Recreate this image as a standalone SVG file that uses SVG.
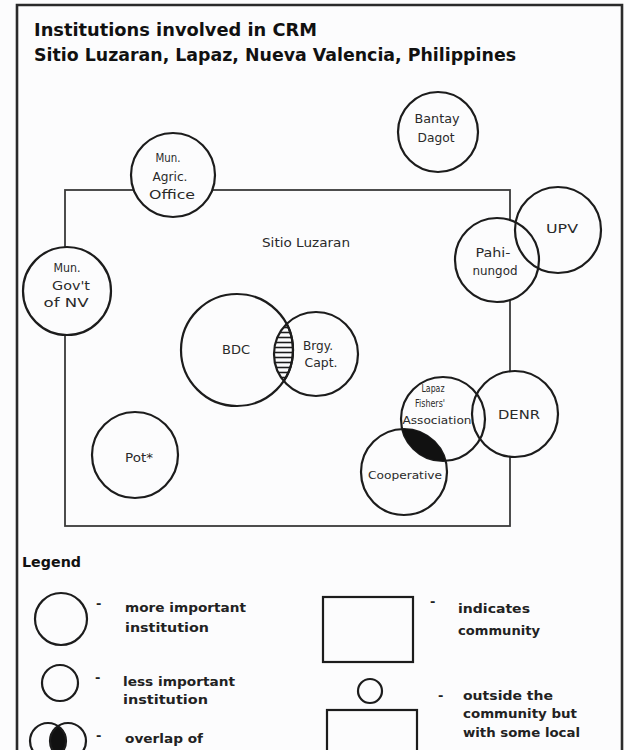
<svg xmlns="http://www.w3.org/2000/svg" width="630" height="750" viewBox="0 0 630 750">
<style>
.bg{fill:#fcfcfd}
.c{fill:none;stroke:#1c1c1c;stroke-width:2.2}
.cf{fill:#fcfcfd;stroke:#1c1c1c;stroke-width:2.2}
.frame{fill:none;stroke:#2a2a2a;stroke-width:2.6}
.comm{fill:none;stroke:#3a3a3a;stroke-width:1.8}
.title{font-family:"DejaVu Sans","Liberation Sans",sans-serif;font-weight:bold;font-size:18px;fill:#111}
.lbl{font-family:"DejaVu Sans","Liberation Sans",sans-serif;font-size:12px;fill:#2a2a2a;text-anchor:middle}
.sm{font-size:10px}
.lg{font-family:"DejaVu Sans","Liberation Sans",sans-serif;font-size:13px;font-weight:bold;fill:#222}
.lh{font-family:"DejaVu Sans","Liberation Sans",sans-serif;font-size:14px;font-weight:bold;fill:#111}
</style>
<defs>
<pattern id="hatch" patternUnits="userSpaceOnUse" width="10" height="5">
<line x1="0" y1="2.5" x2="10" y2="2.5" stroke="#1c1c1c" stroke-width="1.6"/>
</pattern>
<clipPath id="clipBrgy"><circle cx="316" cy="354" r="42"/></clipPath>
<clipPath id="clipCoop"><circle cx="404" cy="472" r="43"/></clipPath>
<clipPath id="clipLegR"><circle cx="68" cy="741" r="18"/></clipPath>
</defs>
<rect class="bg" x="0" y="0" width="630" height="750"/>
<path class="frame" d="M17,755 V5 H622 V755"/>
<g id="title">
<text class="title" x="34" y="36" textLength="283" lengthAdjust="spacingAndGlyphs">Institutions involved in CRM</text>
<text class="title" x="34" y="61" textLength="482" lengthAdjust="spacingAndGlyphs">Sitio Luzaran, Lapaz, Nueva Valencia, Philippines</text>
</g>
<g id="community-sitio-luzaran">
<rect class="comm" x="65" y="190" width="445" height="336"/>
<text class="lbl" x="306" y="247" textLength="88" lengthAdjust="spacingAndGlyphs">Sitio Luzaran</text>
</g>
<g id="node-mun-agric-office">
<circle class="cf" cx="173" cy="175" r="42"/>
<text class="lbl" x="168" y="162" textLength="25" lengthAdjust="spacingAndGlyphs">Mun.</text>
<text class="lbl" x="170" y="181" textLength="35" lengthAdjust="spacingAndGlyphs">Agric.</text>
<text class="lbl" x="172" y="199" textLength="46" lengthAdjust="spacingAndGlyphs">Office</text>
</g>
<g id="node-mun-govt-nv">
<circle class="cf" cx="67" cy="291" r="44"/>
<text class="lbl" x="67" y="272" textLength="27" lengthAdjust="spacingAndGlyphs">Mun.</text>
<text class="lbl" x="71" y="290" textLength="38" lengthAdjust="spacingAndGlyphs">Gov't</text>
<text class="lbl" x="66" y="307" textLength="45" lengthAdjust="spacingAndGlyphs">of  NV</text>
</g>
<g id="node-bantay-dagot">
<circle class="cf" cx="438" cy="132" r="40"/>
<text class="lbl" x="437" y="123" textLength="45" lengthAdjust="spacingAndGlyphs">Bantay</text>
<text class="lbl" x="436" y="142" textLength="37" lengthAdjust="spacingAndGlyphs">Dagot</text>
</g>
<g id="node-pahinungod">
<circle class="cf" cx="497" cy="260" r="42"/>
<text class="lbl" x="493" y="257" textLength="35" lengthAdjust="spacingAndGlyphs">Pahi-</text>
<text class="lbl" x="495" y="275" textLength="45" lengthAdjust="spacingAndGlyphs">nungod</text>
</g>
<g id="node-upv">
<circle class="c" cx="558" cy="230" r="43"/>
<text class="lbl" x="562" y="233" textLength="32" lengthAdjust="spacingAndGlyphs">UPV</text>
</g>
<g id="node-denr">
<circle class="cf" cx="515" cy="414" r="43"/>
<text class="lbl" x="519" y="419" textLength="42" lengthAdjust="spacingAndGlyphs">DENR</text>
</g>
<g id="node-lapaz-fishers-association">
<circle class="c" cx="443" cy="419" r="42"/>
<text class="lbl sm" x="433" y="392" textLength="23" lengthAdjust="spacingAndGlyphs">Lapaz</text>
<text class="lbl sm" x="430" y="407" textLength="30" lengthAdjust="spacingAndGlyphs">Fishers'</text>
<text class="lbl sm" x="437" y="424" textLength="69" lengthAdjust="spacingAndGlyphs">Association</text>
</g>
<g id="node-cooperative">
<circle class="c" cx="404" cy="472" r="43"/>
<text class="lbl sm" x="405" y="479" textLength="74" lengthAdjust="spacingAndGlyphs">Cooperative</text>
</g>
<g id="node-bdc">
<circle class="c" cx="237" cy="350" r="56"/>
<text class="lbl" x="236" y="354" textLength="28" lengthAdjust="spacingAndGlyphs">BDC</text>
</g>
<g id="node-brgy-capt">
<circle class="c" cx="316" cy="354" r="42"/>
<text class="lbl" x="318" y="350" textLength="30" lengthAdjust="spacingAndGlyphs">Brgy.</text>
<text class="lbl" x="321" y="367" textLength="33" lengthAdjust="spacingAndGlyphs">Capt.</text>
</g>
<g id="node-pot">
<circle class="c" cx="135" cy="455" r="43"/>
<text class="lbl" x="139" y="462" textLength="28" lengthAdjust="spacingAndGlyphs">Pot*</text>
</g>
<g id="overlap-bdc-brgy">
<circle cx="237" cy="350" r="56" fill="url(#hatch)" stroke="#1c1c1c" stroke-width="2.2" clip-path="url(#clipBrgy)"/>
</g>
<g id="overlap-lapaz-coop">
<circle cx="443" cy="419" r="42" fill="#111" clip-path="url(#clipCoop)"/>
</g>
<g id="legend">
<text class="lh" x="22" y="567" textLength="59" lengthAdjust="spacingAndGlyphs">Legend</text>
<g id="legend-more">
<circle class="c" cx="61" cy="619" r="26"/>
<text class="lg" x="96" y="608">-</text>
<text class="lg" x="125" y="612" textLength="121" lengthAdjust="spacingAndGlyphs">more important</text>
<text class="lg" x="125" y="632" textLength="84" lengthAdjust="spacingAndGlyphs">institution</text>
</g>
<g id="legend-less">
<circle class="c" cx="60" cy="683" r="18"/>
<text class="lg" x="95" y="682">-</text>
<text class="lg" x="123" y="686" textLength="112" lengthAdjust="spacingAndGlyphs">less important</text>
<text class="lg" x="123" y="704" textLength="85" lengthAdjust="spacingAndGlyphs">institution</text>
</g>
<g id="legend-overlap">
<circle cx="48" cy="741" r="18" fill="#111" clip-path="url(#clipLegR)"/>
<circle class="c" cx="48" cy="741" r="18"/>
<circle class="c" cx="68" cy="741" r="18"/>
<text class="lg" x="96" y="740">-</text>
<text class="lg" x="125" y="743" textLength="78" lengthAdjust="spacingAndGlyphs">overlap of</text>
</g>
<g id="legend-community">
<rect class="c" x="323" y="597" width="90" height="65"/>
<text class="lg" x="430" y="606">-</text>
<text class="lg" x="458" y="613" textLength="72" lengthAdjust="spacingAndGlyphs">indicates</text>
<text class="lg" x="458" y="635" textLength="82" lengthAdjust="spacingAndGlyphs">community</text>
</g>
<g id="legend-outside">
<circle class="c" cx="370" cy="691" r="12"/>
<rect class="c" x="327" y="710" width="90" height="60"/>
<text class="lg" x="438" y="700">-</text>
<text class="lg" x="463" y="700" textLength="90" lengthAdjust="spacingAndGlyphs">outside the</text>
<text class="lg" x="463" y="718" textLength="114" lengthAdjust="spacingAndGlyphs">community but</text>
<text class="lg" x="463" y="737" textLength="117" lengthAdjust="spacingAndGlyphs">with some local</text>
</g>
</g>
</svg>
